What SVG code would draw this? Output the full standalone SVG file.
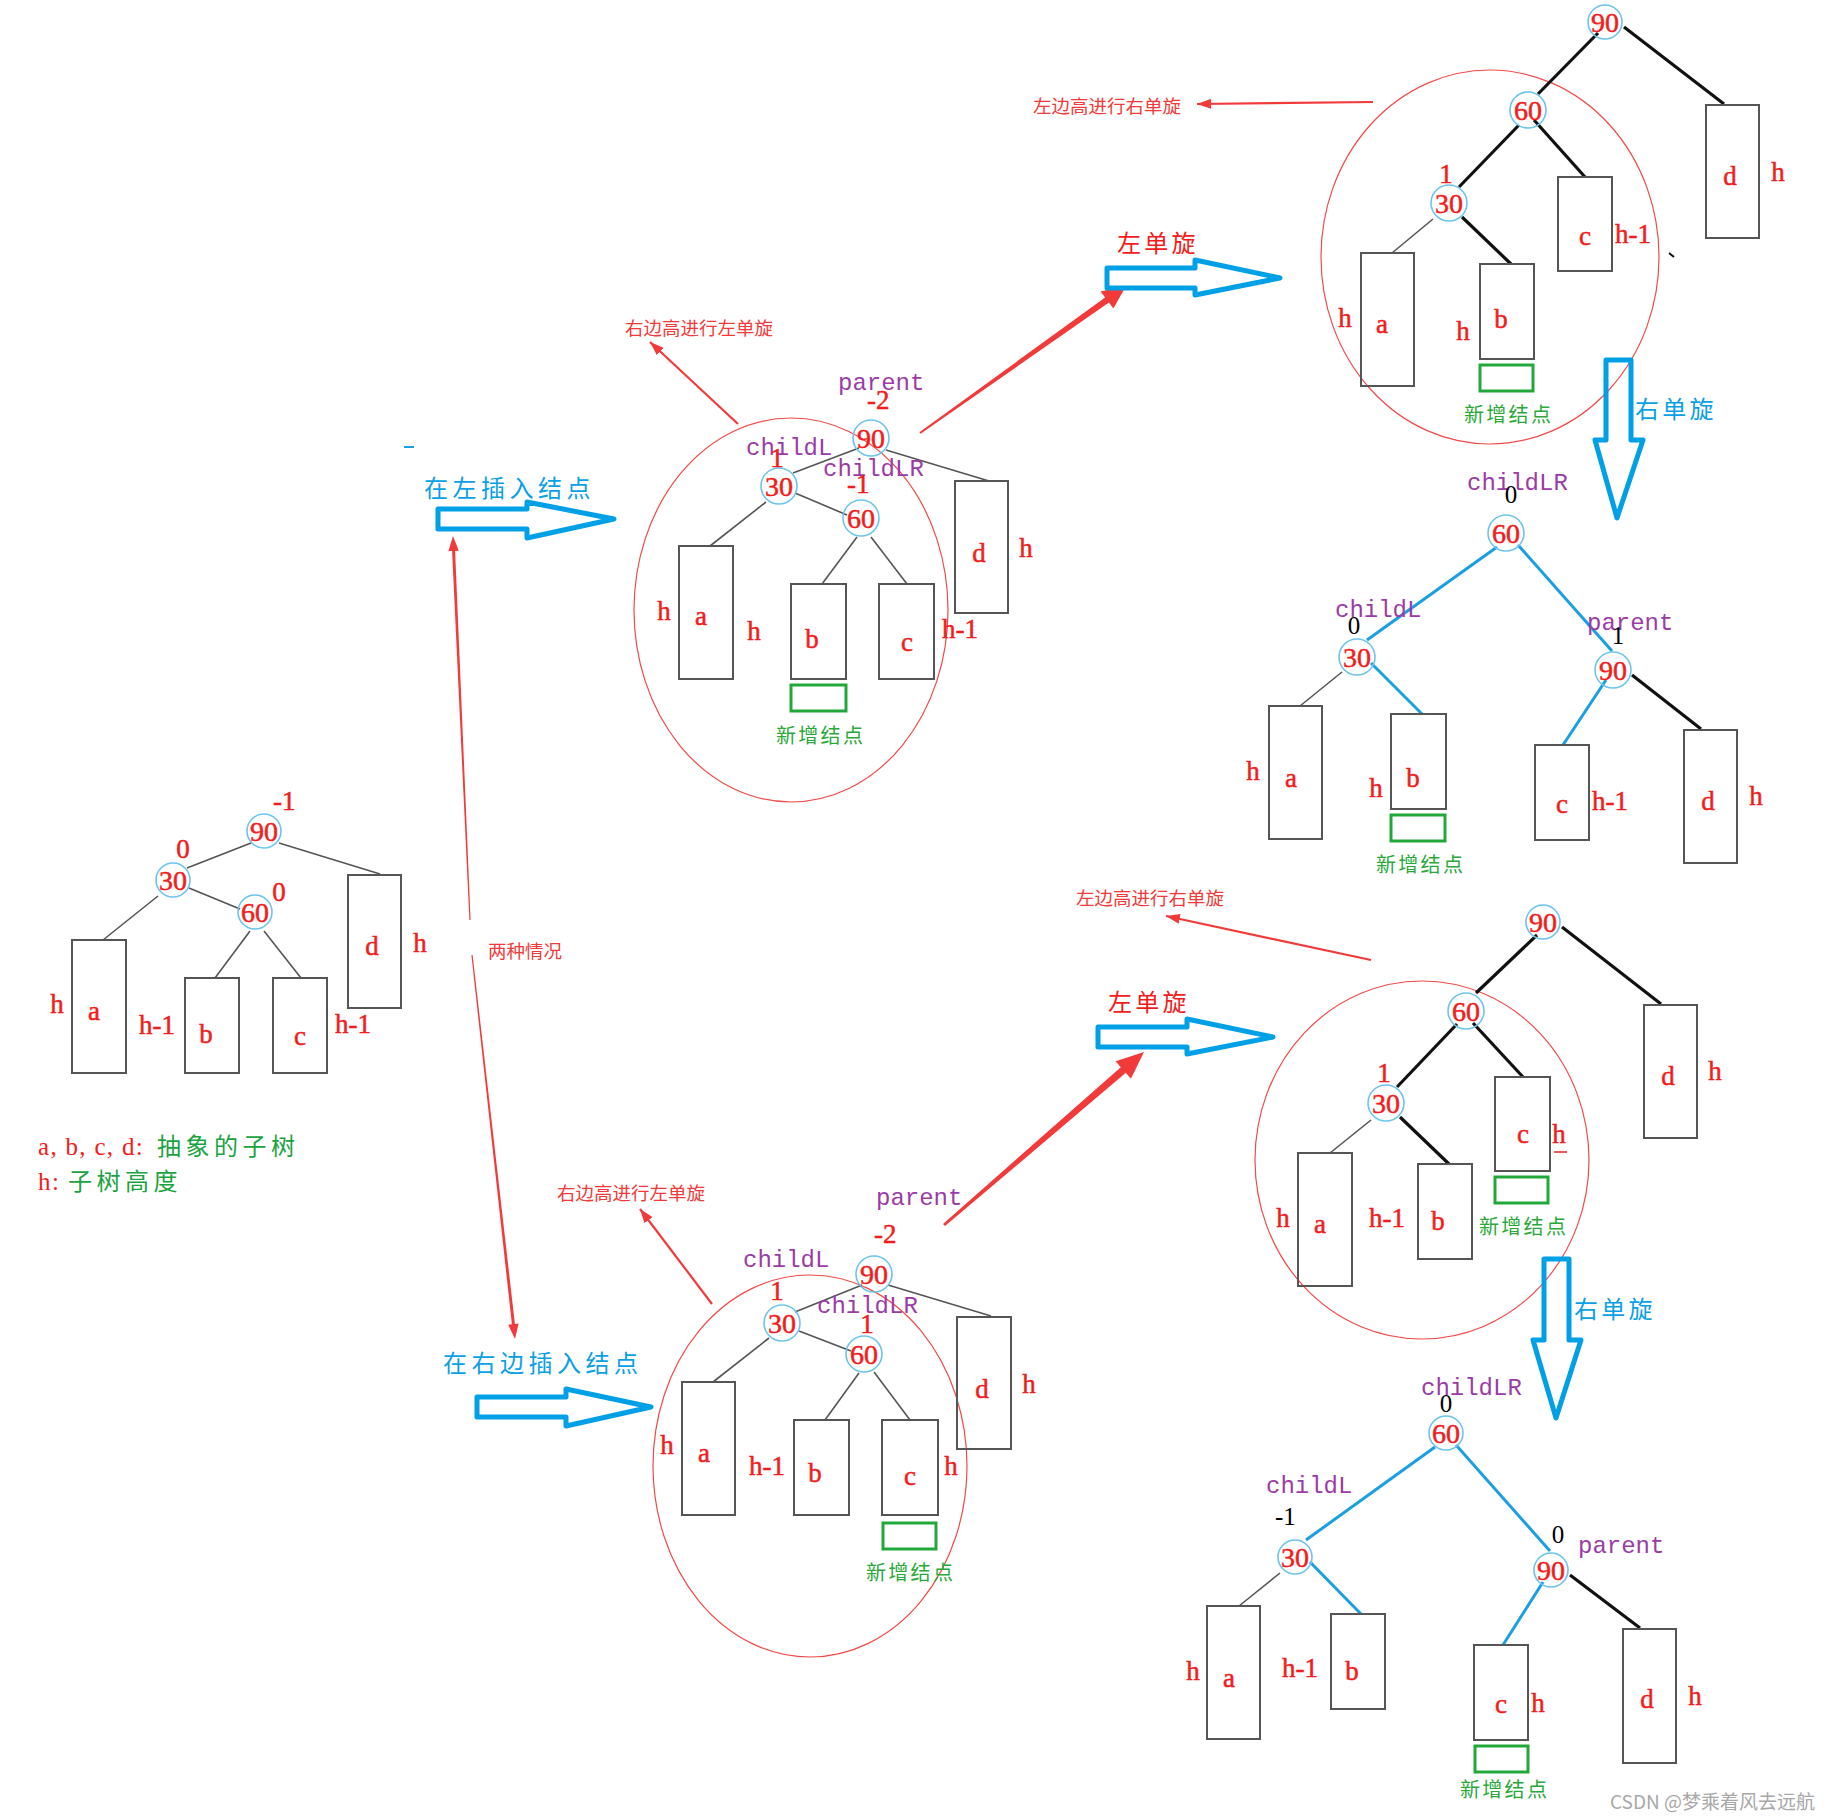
<svg xmlns="http://www.w3.org/2000/svg" width="1836" height="1820" viewBox="0 0 1836 1820">
<defs>
<style>
.node circle{fill:none;stroke:#6cc4ee;stroke-width:1.6}
.num{font-family:"Liberation Serif",serif;font-size:28px;fill:#f21c1c;stroke:#f21c1c;stroke-width:0.5;text-anchor:middle}
.box rect{fill:none;stroke:#555;stroke-width:2}
.box text,.lm{font-family:"Liberation Serif",serif;font-size:27px;fill:#f21c1c;stroke:#f21c1c;stroke-width:0.5;text-anchor:middle}
.lb{font-family:"Liberation Serif",serif;font-size:27px;fill:#f21c1c;stroke:#f21c1c;stroke-width:0.5}
.pu{font-family:"Liberation Mono",monospace;font-size:24px;fill:#9b3ba8}
.bk{font-family:"Liberation Serif",serif;font-size:25px;fill:#000;text-anchor:middle}
.bks{font-family:"Liberation Serif",serif;font-size:25px;fill:#000}
.gbox{fill:none;stroke:#22a83a;stroke-width:3}
.gt{font-family:"Noto Sans CJK SC",sans-serif;font-size:20px;fill:#2aa83a;letter-spacing:2.3px}
.ell{fill:none;stroke:#f24a4a;stroke-width:1.2}
.eg{stroke:#555;stroke-width:1.6;fill:none}
.ek{stroke:#111;stroke-width:3.2;fill:none}
.eb{stroke:#1a9fe2;stroke-width:3;fill:none}
.ha{fill:none;stroke:#00a0e6;stroke-width:5;stroke-linejoin:round}
.ann{font-family:"Noto Sans CJK SC",sans-serif;font-size:18.5px;fill:#f23a3a}
.ra{stroke:#f23a3a;stroke-width:2.2;fill:none}
.rf{fill:#f23a3a}
.bt{font-family:"Noto Sans CJK SC",sans-serif;font-size:24px;fill:#0aa0e6;letter-spacing:4.5px}
.rt{font-family:"Noto Sans CJK SC",sans-serif;font-size:24px;fill:#f21c1c;letter-spacing:3.2px}
.bt3{font-family:"Noto Sans CJK SC",sans-serif;font-size:24px;fill:#0aa0e6;letter-spacing:3.2px}
</style>
<marker id="arr" viewBox="0 0 14 10" refX="14" refY="5" markerWidth="14" markerHeight="10" markerUnits="userSpaceOnUse" orient="auto"><path d="M0,0 L14,5 L0,10 z" fill="#f23a3a"/></marker>
</defs>
<rect width="1836" height="1820" fill="#fff"/>

<g id="ellipses">
<ellipse class="ell" cx="791" cy="610" rx="157" ry="192"/>
<ellipse class="ell" cx="1490" cy="257" rx="169" ry="187"/>
<ellipse class="ell" cx="1422" cy="1160" rx="167" ry="179"/>
<ellipse class="ell" cx="810" cy="1466" rx="157" ry="191"/>
</g>

<g id="connectors">
<line class="eg" x1="251" y1="843" x2="187" y2="868"/>
<line class="eg" x1="279" y1="843" x2="380" y2="874"/>
<line class="eg" x1="189" y1="888" x2="240" y2="909"/>
<line class="eg" x1="158" y1="896" x2="103" y2="940"/>
<line class="eg" x1="250" y1="931" x2="215" y2="978"/>
<line class="eg" x1="264" y1="931" x2="301" y2="978"/>
<line class="eg" x1="859" y1="448" x2="793" y2="473"/>
<line class="eg" x1="886" y1="450" x2="989" y2="481"/>
<line class="eg" x1="795" y1="493" x2="847" y2="515"/>
<line class="eg" x1="766" y1="502" x2="710" y2="546"/>
<line class="eg" x1="857" y1="537" x2="822" y2="584"/>
<line class="eg" x1="871" y1="537" x2="907" y2="584"/>
<line class="ek" x1="1598" y1="33" x2="1538" y2="94"/>
<line class="ek" x1="1624" y1="27" x2="1724" y2="104"/>
<line class="ek" x1="1519" y1="125" x2="1459" y2="187"/>
<line class="ek" x1="1534" y1="120" x2="1585" y2="177"/>
<line class="ek" x1="1462" y1="217" x2="1511" y2="264"/>
<line class="eg" x1="1433" y1="219" x2="1392" y2="253"/>
<line class="eb" x1="1497" y1="547" x2="1367" y2="640"/>
<line class="eb" x1="1518" y1="545" x2="1612" y2="651"/>
<line class="eb" x1="1371" y1="663" x2="1422" y2="714"/>
<line class="eb" x1="1606" y1="680" x2="1563" y2="745"/>
<line class="ek" x1="1632" y1="675" x2="1701" y2="729"/>
<line class="eg" x1="1342" y1="672" x2="1300" y2="706"/>
<line class="ek" x1="1537" y1="935" x2="1476" y2="993"/>
<line class="ek" x1="1562" y1="927" x2="1661" y2="1004"/>
<line class="ek" x1="1457" y1="1024" x2="1397" y2="1087"/>
<line class="ek" x1="1473" y1="1023" x2="1523" y2="1077"/>
<line class="ek" x1="1400" y1="1117" x2="1449" y2="1164"/>
<line class="eg" x1="1371" y1="1120" x2="1330" y2="1153"/>
<line class="eb" x1="1435" y1="1447" x2="1306" y2="1540"/>
<line class="eb" x1="1456" y1="1445" x2="1550" y2="1551"/>
<line class="eb" x1="1310" y1="1562" x2="1361" y2="1614"/>
<line class="eb" x1="1543" y1="1582" x2="1503" y2="1645"/>
<line class="ek" x1="1570" y1="1575" x2="1640" y2="1628"/>
<line class="eg" x1="1280" y1="1573" x2="1239" y2="1606"/>
<line class="eg" x1="862" y1="1285" x2="795" y2="1312"/>
<line class="eg" x1="888" y1="1285" x2="991" y2="1316"/>
<line class="eg" x1="799" y1="1331" x2="851" y2="1351"/>
<line class="eg" x1="769" y1="1338" x2="713" y2="1382"/>
<line class="eg" x1="859" y1="1373" x2="825" y2="1420"/>
<line class="eg" x1="874" y1="1372" x2="910" y2="1420"/>

<line class="ra" x1="738" y1="424" x2="650" y2="342" marker-end="url(#arr)"/>
<line class="ra" x1="1373" y1="102" x2="1197" y2="104" marker-end="url(#arr)"/>
<line class="ra" x1="1371" y1="960" x2="1166" y2="916" marker-end="url(#arr)"/>
<line class="ra" x1="712" y1="1304" x2="640" y2="1209" marker-end="url(#arr)"/>
<polygon class="rf" points="470.6,920 455.1,550.9 458.8,550.8 453,536 448.4,551.2 452.1,551.1 469.4,920"/>
<polygon class="rf" points="472.6,954.9 514.9,1323.9 518.6,1323.5 515,1339 508.2,1324.7 511.9,1324.3 471.4,955.1"/>
<polygon class="rf" points="920.6,433.8 1108.9,302.6 1113.4,308.6 1126,286 1100.6,291.4 1105.1,297.4 919.4,432.2"/>
<polygon class="rf" points="945,1226.1 1125.8,1072.8 1130.9,1078.7 1144,1052 1115.7,1061.3 1120.8,1067.2 943,1223.9"/>
<polygon class="ha" points="438,509 527,509 527,502 614,519 527,538 527,529 438,529"/>
<polygon class="ha" points="1107,268 1195,268 1195,260 1280,278 1195,295 1195,288 1107,288"/>
<polygon class="ha" points="1098,1027 1187,1027 1187,1019 1273,1037 1187,1054 1187,1047 1098,1047"/>
<polygon class="ha" points="477,1397 566,1397 566,1389 651,1407 566,1426 566,1417 477,1417"/>
<polygon class="ha" points="1606,360 1631,360 1631,440 1643,440 1617,518 1595,440 1606,440"/>
<polygon class="ha" points="1544,1259 1569,1259 1569,1340 1581,1340 1556,1418 1533,1340 1544,1340"/>
<line x1="404" y1="447" x2="414" y2="447" stroke="#1a9fe2" stroke-width="2"/>
<line x1="1669" y1="253" x2="1674" y2="257" stroke="#111" stroke-width="2"/>
</g>

<g id="p1-n90" class="node"><circle cx="264" cy="831" r="17"/><text class="num" x="264" y="841">90</text></g>
<g id="p1-n30" class="node"><circle cx="173" cy="880" r="17"/><text class="num" x="173" y="890">30</text></g>
<g id="p1-n60" class="node"><circle cx="255" cy="912" r="17"/><text class="num" x="255" y="922">60</text></g>
<g id="p1-a" class="box"><rect x="72" y="940" width="54" height="133"/><text x="94" y="1020">a</text></g>
<g id="p1-b" class="box"><rect x="185" y="978" width="54" height="95"/><text x="206" y="1043">b</text></g>
<g id="p1-c" class="box"><rect x="273" y="978" width="54" height="95"/><text x="300" y="1045">c</text></g>
<g id="p1-d" class="box"><rect x="348" y="875" width="53" height="133"/><text x="372" y="955">d</text></g>
<g id="p1-labels">
<text class="lb" x="273" y="810">-1</text>
<text class="lm" x="183" y="858">0</text>
<text class="lm" x="279" y="901">0</text>
<text class="lm" x="57" y="1013">h</text>
<text class="lb" x="139" y="1034">h-1</text>
<text class="lb" x="335" y="1033">h-1</text>
<text class="lm" x="420" y="952">h</text>
<text x="38" y="1155" font-family="Liberation Serif,serif" font-size="25" fill="#f21c1c" letter-spacing="1.3">a, b, c, d:</text>
<text x="157" y="1155" font-family="Noto Sans CJK SC,sans-serif" font-size="24" fill="#1aa340" letter-spacing="4.5">抽象的子树</text>
<text x="38" y="1190" font-family="Liberation Serif,serif" font-size="25" fill="#f21c1c" letter-spacing="1.5">h:</text>
<text x="68" y="1190" font-family="Noto Sans CJK SC,sans-serif" font-size="24" fill="#1aa340" letter-spacing="4.5">子树高度</text>
</g>

<g id="p2-n90" class="node"><circle cx="871" cy="438" r="18"/><text class="num" x="871" y="448">90</text></g>
<g id="p2-n30" class="node"><circle cx="779" cy="486" r="18"/><text class="num" x="779" y="496">30</text></g>
<g id="p2-n60" class="node"><circle cx="861" cy="518" r="18"/><text class="num" x="861" y="528">60</text></g>
<g id="p2-a" class="box"><rect x="679" y="546" width="54" height="133"/><text x="701" y="625">a</text></g>
<g id="p2-b" class="box"><rect x="791" y="584" width="55" height="95"/><text x="812" y="648">b</text></g>
<g id="p2-c" class="box"><rect x="879" y="584" width="55" height="95"/><text x="907" y="651">c</text></g>
<g id="p2-d" class="box"><rect x="955" y="481" width="53" height="132"/><text x="979" y="562">d</text></g>
<g id="p2-new"><rect class="gbox" x="791" y="685" width="55" height="26"/><text class="gt" x="776" y="743">新增结点</text></g>
<g id="p2-labels">
<text class="pu" x="838" y="390">parent</text>
<text class="lb" x="867" y="409">-2</text>
<text class="pu" x="746" y="455">childL</text>
<text class="lm" x="777" y="467">1</text>
<text class="pu" x="823" y="476">childLR</text>
<text class="lb" x="847" y="493">-1</text>
<text class="lm" x="664" y="620">h</text>
<text class="lm" x="754" y="640">h</text>
<text class="lb" x="942" y="638">h-1</text>
<text class="lm" x="1026" y="557">h</text>
<text class="ann" x="625" y="335">右边高进行左单旋</text>
<text class="bt" x="424" y="497">在左插入结点</text>
<text class="ann" x="488" y="958">两种情况</text>
</g>

<g id="p3-n90" class="node"><circle cx="1605" cy="22" r="17"/><text class="num" x="1605" y="32">90</text></g>
<g id="p3-n60" class="node"><circle cx="1528" cy="110" r="18"/><text class="num" x="1528" y="120">60</text></g>
<g id="p3-n30" class="node"><circle cx="1449" cy="203" r="18"/><text class="num" x="1449" y="213">30</text></g>
<g id="p3-a" class="box"><rect x="1361" y="253" width="53" height="133"/><text x="1382" y="333">a</text></g>
<g id="p3-b" class="box"><rect x="1480" y="264" width="54" height="95"/><text x="1501" y="328">b</text></g>
<g id="p3-c" class="box"><rect x="1558" y="177" width="54" height="94"/><text x="1585" y="245">c</text></g>
<g id="p3-d" class="box"><rect x="1706" y="105" width="53" height="133"/><text x="1730" y="185">d</text></g>
<g id="p3-new"><rect class="gbox" x="1480" y="365" width="53" height="26"/><text class="gt" x="1464" y="422">新增结点</text></g>
<g id="p3-labels">
<text class="lm" x="1446" y="183">1</text>
<text class="lm" x="1345" y="327">h</text>
<text class="lm" x="1463" y="340">h</text>
<text class="lb" x="1615" y="243">h-1</text>
<text class="lm" x="1778" y="181">h</text>
<text class="ann" x="1033" y="113">左边高进行右单旋</text>
<text class="rt" x="1117" y="252">左单旋</text>
<text class="bt3" x="1635" y="418">右单旋</text>
</g>

<g id="p4-n60" class="node"><circle cx="1506" cy="533" r="18"/><text class="num" x="1506" y="543">60</text></g>
<g id="p4-n30" class="node"><circle cx="1357" cy="657" r="18"/><text class="num" x="1357" y="667">30</text></g>
<g id="p4-n90" class="node"><circle cx="1613" cy="670" r="18"/><text class="num" x="1613" y="680">90</text></g>
<g id="p4-a" class="box"><rect x="1269" y="706" width="53" height="133"/><text x="1291" y="787">a</text></g>
<g id="p4-b" class="box"><rect x="1391" y="714" width="55" height="95"/><text x="1413" y="787">b</text></g>
<g id="p4-c" class="box"><rect x="1535" y="745" width="54" height="95"/><text x="1562" y="813">c</text></g>
<g id="p4-d" class="box"><rect x="1684" y="730" width="53" height="133"/><text x="1708" y="810">d</text></g>
<g id="p4-new"><rect class="gbox" x="1391" y="815" width="54" height="26"/><text class="gt" x="1376" y="872">新增结点</text></g>
<g id="p4-labels">
<text class="pu" x="1467" y="490">childLR</text>
<text class="bk" x="1511" y="503">0</text>
<text class="pu" x="1335" y="617">childL</text>
<text class="bk" x="1354" y="634">0</text>
<text class="pu" x="1587" y="630">parent</text>
<text class="bk" x="1618" y="644">1</text>
<text class="lm" x="1253" y="780">h</text>
<text class="lm" x="1376" y="797">h</text>
<text class="lb" x="1592" y="810">h-1</text>
<text class="lm" x="1756" y="805">h</text>
</g>

<g id="p5-n90" class="node"><circle cx="1543" cy="922" r="17"/><text class="num" x="1543" y="932">90</text></g>
<g id="p5-n60" class="node"><circle cx="1466" cy="1011" r="18"/><text class="num" x="1466" y="1021">60</text></g>
<g id="p5-n30" class="node"><circle cx="1386" cy="1103" r="18"/><text class="num" x="1386" y="1113">30</text></g>
<g id="p5-a" class="box"><rect x="1298" y="1153" width="54" height="133"/><text x="1320" y="1233">a</text></g>
<g id="p5-b" class="box"><rect x="1418" y="1164" width="54" height="95"/><text x="1438" y="1230">b</text></g>
<g id="p5-c" class="box"><rect x="1495" y="1077" width="55" height="94"/><text x="1523" y="1143">c</text></g>
<g id="p5-d" class="box"><rect x="1644" y="1005" width="53" height="133"/><text x="1668" y="1085">d</text></g>
<g id="p5-new"><rect class="gbox" x="1495" y="1177" width="53" height="26"/><text class="gt" x="1479" y="1234">新增结点</text></g>
<g id="p5-labels">
<text class="lm" x="1384" y="1082">1</text>
<text class="lm" x="1283" y="1227">h</text>
<text class="lb" x="1369" y="1227">h-1</text>
<text class="lm" x="1559" y="1143">h</text>
<line x1="1554" y1="1152" x2="1567" y2="1152" stroke="#f21c1c" stroke-width="1.5"/>
<text class="lm" x="1715" y="1080">h</text>
<text class="ann" x="1076" y="905">左边高进行右单旋</text>
<text class="rt" x="1108" y="1011">左单旋</text>
<text class="bt3" x="1574" y="1318">右单旋</text>
</g>

<g id="p6-n60" class="node"><circle cx="1446" cy="1433" r="17"/><text class="num" x="1446" y="1443">60</text></g>
<g id="p6-n30" class="node"><circle cx="1295" cy="1557" r="17"/><text class="num" x="1295" y="1567">30</text></g>
<g id="p6-n90" class="node"><circle cx="1551" cy="1570" r="17"/><text class="num" x="1551" y="1580">90</text></g>
<g id="p6-a" class="box"><rect x="1207" y="1606" width="53" height="133"/><text x="1229" y="1687">a</text></g>
<g id="p6-b" class="box"><rect x="1331" y="1614" width="54" height="95"/><text x="1352" y="1680">b</text></g>
<g id="p6-c" class="box"><rect x="1474" y="1645" width="54" height="95"/><text x="1501" y="1713">c</text></g>
<g id="p6-d" class="box"><rect x="1623" y="1629" width="53" height="134"/><text x="1647" y="1708">d</text></g>
<g id="p6-new"><rect class="gbox" x="1475" y="1746" width="53" height="26"/><text class="gt" x="1460" y="1797">新增结点</text></g>
<g id="p6-labels">
<text class="pu" x="1421" y="1395">childLR</text>
<text class="bk" x="1446" y="1412">0</text>
<text class="pu" x="1266" y="1493">childL</text>
<text class="bks" x="1275" y="1525">-1</text>
<text class="bk" x="1558" y="1543">0</text>
<text class="pu" x="1578" y="1553">parent</text>
<text class="lm" x="1193" y="1680">h</text>
<text class="lb" x="1282" y="1677">h-1</text>
<text class="lm" x="1538" y="1712">h</text>
<text class="lm" x="1695" y="1705">h</text>
<text x="1610" y="1809" font-family="Noto Sans CJK SC,sans-serif" font-size="19" fill="#a8a8a8">CSDN @梦乘着风去远航</text>
</g>

<g id="p7-n90" class="node"><circle cx="874" cy="1274" r="18"/><text class="num" x="874" y="1284">90</text></g>
<g id="p7-n30" class="node"><circle cx="782" cy="1323" r="18"/><text class="num" x="782" y="1333">30</text></g>
<g id="p7-n60" class="node"><circle cx="864" cy="1354" r="18"/><text class="num" x="864" y="1364">60</text></g>
<g id="p7-a" class="box"><rect x="682" y="1382" width="53" height="133"/><text x="704" y="1462">a</text></g>
<g id="p7-b" class="box"><rect x="794" y="1420" width="55" height="95"/><text x="815" y="1482">b</text></g>
<g id="p7-c" class="box"><rect x="882" y="1420" width="56" height="95"/><text x="910" y="1485">c</text></g>
<g id="p7-d" class="box"><rect x="957" y="1317" width="54" height="132"/><text x="982" y="1398">d</text></g>
<g id="p7-new"><rect class="gbox" x="883" y="1523" width="53" height="26"/><text class="gt" x="866" y="1580">新增结点</text></g>
<g id="p7-labels">
<text class="ann" x="557" y="1200">右边高进行左单旋</text>
<text class="pu" x="876" y="1205">parent</text>
<text class="lb" x="874" y="1243">-2</text>
<text class="pu" x="743" y="1267">childL</text>
<text class="lm" x="777" y="1300">1</text>
<text class="pu" x="817" y="1313">childLR</text>
<text class="lm" x="867" y="1333">1</text>
<text class="lm" x="667" y="1454">h</text>
<text class="lb" x="749" y="1475">h-1</text>
<text class="lm" x="951" y="1475">h</text>
<text class="lm" x="1029" y="1393">h</text>
<text class="bt" x="443" y="1372">在右边插入结点</text>
</g>
</svg>
